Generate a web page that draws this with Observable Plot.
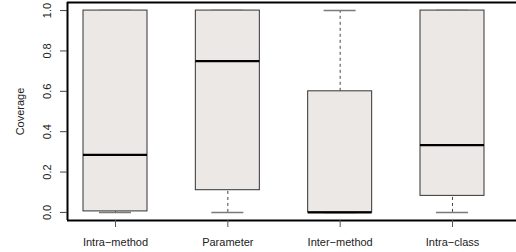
<!DOCTYPE html>
<html><head><meta charset="utf-8">
<script src="https://cdn.jsdelivr.net/npm/d3@7"></script>
<script src="https://cdn.jsdelivr.net/npm/@observablehq/plot@0.6"></script>
<style>
html,body{margin:0;padding:0;background:#fff;}
#chart svg{display:block;}
</style>
</head><body><div id="chart"></div>
<script>
const categories = ["Intra\u2212method", "Parameter", "Inter\u2212method", "Intra\u2212class"];
const whiskerLow = [0, 0, 0, 0];
const lowerQuartile = [0.005, 0.11, 0, 0.082];
const medianValue = [0.285, 0.75, 0, 0.333];
const upperQuartile = [1, 1, 0.6, 1];
const whiskerHigh = [1, 1, 1, 1];
const yTicks = [0, 0.2, 0.4, 0.6, 0.8, 1.0];
const yLabel = "Coverage";

const data = categories.map((c, i) => ({
  pos: i + 1, c,
  lo: whiskerLow[i], q1: lowerQuartile[i], med: medianValue[i],
  q3: upperQuartile[i], hi: whiskerHigh[i]
}));

const W = 516, H = 252;
const mL = 67, mR = 0, mT = 2, mB = 32;
const step = 112.33;              // px between box centres
const boxHalf = 32 / step;
const capHalf = 16 / step;
const xDomain = [1 - 48 / step, 4 + 64 / step];
const yDomain = [-0.04, 1.04];
const font = "Liberation Sans, Arial, Helvetica, sans-serif";

const chart = Plot.plot({
  width: W, height: H,
  marginLeft: mL, marginRight: mR, marginTop: mT, marginBottom: mB,
  style: {fontFamily: font, fontSize: "11px", color: "#222", background: "#fff"},
  x: {type: "linear", domain: xDomain, axis: null},
  y: {type: "linear", domain: yDomain, axis: null},
  marks: [
    // whiskers
    Plot.ruleX(data, {x: "pos", y1: "q3", y2: "hi", stroke: "#444", strokeWidth: 1, strokeDasharray: "3,3"}),
    Plot.ruleX(data, {x: "pos", y1: "lo", y2: "q1", stroke: "#444", strokeWidth: 1, strokeDasharray: "3,3"}),
    // caps
    Plot.ruleY(data, {y: "hi", x1: d => d.pos - capHalf, x2: d => d.pos + capHalf, stroke: "#7a7a7a", strokeWidth: 1.5}),
    Plot.ruleY(data, {y: "lo", x1: d => d.pos - capHalf, x2: d => d.pos + capHalf, stroke: "#7a7a7a", strokeWidth: 1.5}),
    // boxes
    Plot.rect(data, {x1: d => d.pos - boxHalf, x2: d => d.pos + boxHalf, y1: "q1", y2: "q3", fill: "#ece8e6", stroke: "#333", strokeWidth: 1}),
    // medians
    Plot.ruleY(data, {y: "med", x1: d => d.pos - boxHalf, x2: d => d.pos + boxHalf, stroke: "#000", strokeWidth: 2.2}),
    // frame: left, top, bottom
    Plot.ruleX([xDomain[0]], {stroke: "#000", strokeWidth: 2}),
    Plot.ruleY(yDomain, {stroke: "#000", strokeWidth: 2}),
    // y axis ticks and rotated labels
    Plot.axisY(yTicks, {tickSize: 7, tickFormat: () => "", stroke: "#444", anchor: "left", label: null}),
    Plot.text(yTicks, {y: d => d, frameAnchor: "left", dx: -20, rotate: -90, text: d => d.toFixed(1), textAnchor: "middle", lineAnchor: "middle", fill: "#222", fontSize: 11}),
    // y label
    Plot.text([yLabel], {frameAnchor: "left", dx: -47, rotate: -90, text: d => d, textAnchor: "middle", lineAnchor: "middle", fill: "#222", fontSize: 11}),
    // x axis
    Plot.axisX(data.map(d => d.pos), {anchor: "bottom", tickSize: 7, tickPadding: 10.5, tickFormat: i => categories[i - 1], stroke: "#555", fill: "#222", fontSize: 11, label: null})
  ]
});
document.getElementById("chart").appendChild(chart);
</script>
</body></html>
